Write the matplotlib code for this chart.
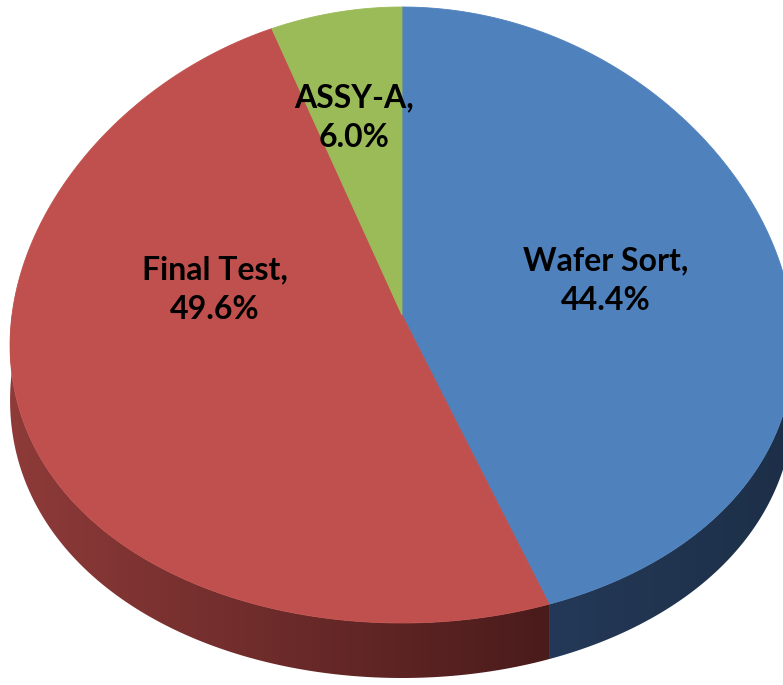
import numpy as np
import matplotlib
matplotlib.use("Agg")
import matplotlib.pyplot as plt
from matplotlib.patches import Polygon
from matplotlib.colors import to_rgb

# ---- data ----
labels = ["Wafer Sort", "Final Test", "ASSY-A"]
shares = [44.4, 49.6, 6.0]

# ---- style ----
top_colors = ["#4F81BD", "#C0504D", "#9BBB59"]
side_left = ["#243958", "#8E3B39", "#6E8A3A"]
side_right = ["#1D2F47", "#4A1B1B", "#5A7530"]
label_pos = [(606, 281), (215, 290), (354, 118)]  # pixel centres of label blocks

W, H = 783, 685
fig = plt.figure(figsize=(W / 100, H / 100), dpi=100)
ax = fig.add_axes([0, 0, 1, 1])
ax.set_xlim(0, W)
ax.set_ylim(H, 0)
ax.axis("off")

cx, cy, rx, ry, depth, k = 402, 315, 390, 308, 55, 0.10


def proj(t_deg, dz=0.0, r=1.0):
    t = np.radians(t_deg)
    x = cx + r * rx * np.cos(t) * (1 - k * np.sin(t))
    y = cy - r * ry * np.sin(t) + dz
    return x, y


total = sum(shares)
bounds = []
start = 90.0
for s in shares:
    end = start - s / total * 360.0
    bounds.append((start, end))
    start = end

# ---- sides (only front half visible: angles between -180 and 0) ----
for i, (a0, a1) in enumerate(bounds):
    lo, hi = min(a0, a1), max(a0, a1)
    for shift in (0, -360, 360):
        l2, h2 = lo + shift, hi + shift
        vl, vh = max(l2, -180), min(h2, 0)
        if vh <= vl:
            continue
        ts = np.linspace(vl, vh, 200)
        xt, yt = proj(ts)
        xb, yb = proj(ts[::-1], dz=depth)
        xs = np.concatenate([xt, xb])
        ys = np.concatenate([yt, yb])
        poly = Polygon(np.column_stack([xs, ys]), closed=True,
                       facecolor="none", edgecolor="none")
        ax.add_patch(poly)
        c0 = np.array(to_rgb(side_left[i]))
        c1 = np.array(to_rgb(side_right[i]))
        xmin, xmax = xs.min(), xs.max()
        n = 256
        grad = np.linspace(0, 1, n)[None, :, None]
        img = c0[None, None, :] * (1 - grad) + c1[None, None, :] * grad
        im = ax.imshow(img, extent=[xmin, xmax, ys.max(), ys.min()],
                       aspect="auto", interpolation="bilinear", zorder=1)
        im.set_clip_path(poly)

# ---- top faces ----
for i, (a0, a1) in enumerate(bounds):
    ts = np.linspace(a0, a1, 300)
    xt, yt = proj(ts)
    xs = np.concatenate([[cx], xt])
    ys = np.concatenate([[cy], yt])
    ax.add_patch(Polygon(np.column_stack([xs, ys]), closed=True,
                         facecolor=top_colors[i], edgecolor=top_colors[i],
                         linewidth=0.6, zorder=2))

# ---- labels ----
for i, lab in enumerate(labels):
    x, y = label_pos[i]
    ax.text(x, y, f"{lab},\n{shares[i]:.1f}%", ha="center", va="center",
            fontsize=23, fontweight="bold", family=["Lato", "DejaVu Sans"],
            color="#000000", linespacing=1.45, zorder=5)

fig.savefig("out.png", dpi=100)
